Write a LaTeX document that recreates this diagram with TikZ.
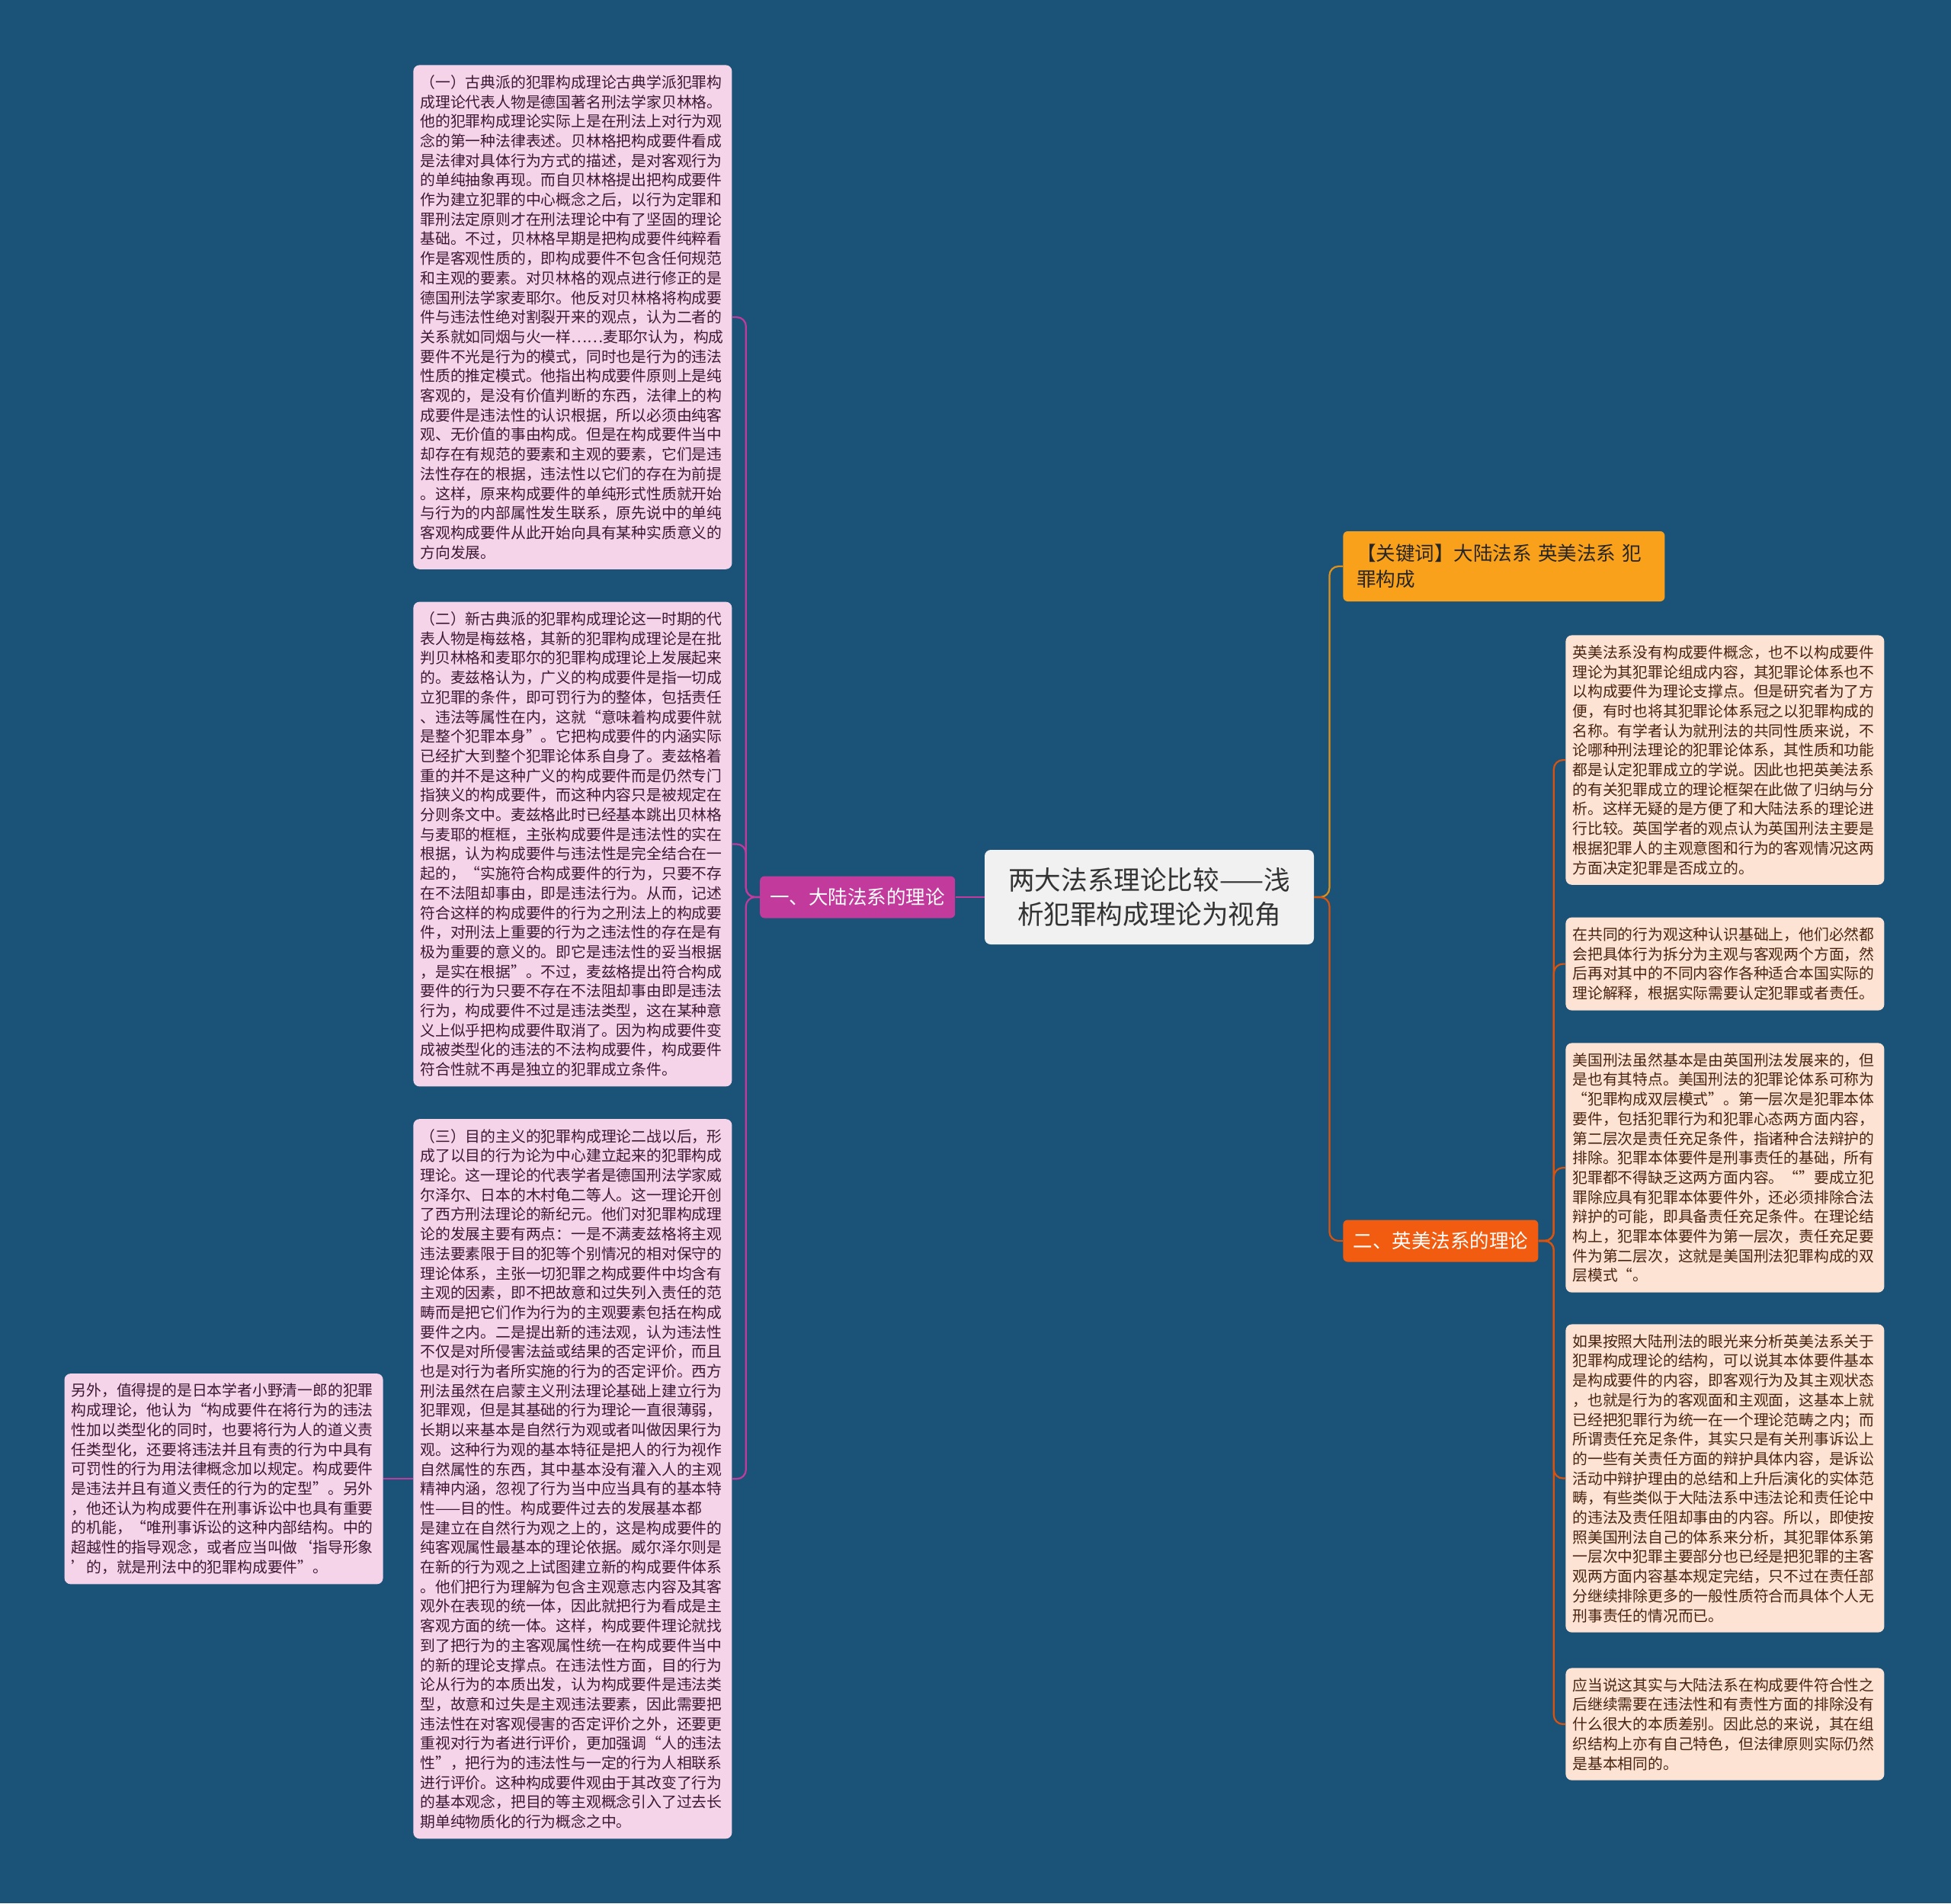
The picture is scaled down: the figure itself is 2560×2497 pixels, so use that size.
\documentclass[tikz,border=0pt]{standalone}
\usepackage{fontspec}
\setmainfont{Noto Sans CJK SC}
\usepackage{xcolor}
\usepackage{tikz}
\usetikzlibrary{positioning}

\definecolor{bgblue}{HTML}{1B5378}
\definecolor{rootfill}{HTML}{F1F1F1}
\definecolor{magenta1}{HTML}{C23A9C}
\definecolor{pinkfill}{HTML}{F5D4EA}
\definecolor{pinktext}{HTML}{3E1733}
\definecolor{keyfill}{HTML}{F9A11B}
\definecolor{orange1}{HTML}{F25C10}
\definecolor{peachfill}{HTML}{FCE3D4}
\definecolor{peachtext}{HTML}{4A2410}

\begin{document}
\begin{tikzpicture}[
    x=0.5pt, y=0.5pt,
    rootbox/.style={rectangle, fill=rootfill, rounded corners=4pt,
                    minimum width=216pt, minimum height=62pt, align=center,
                    text=black!80, font=\fontsize{17.3pt}{22.5pt}\selectfont},
    lbranch/.style={rectangle, fill=magenta1, rounded corners=3pt, text=white,
                    minimum width=128pt, minimum height=27.5pt,
                    font=\fontsize{12.75pt}{16pt}\selectfont},
    rbranch/.style={lbranch, fill=orange1},
    keybox/.style={rectangle, fill=keyfill, rounded corners=3pt, align=left,
                   text width=193pt, inner xsep=9pt, minimum height=46pt,
                   text=black!85, font=\fontsize{12.75pt}{17pt}\selectfont},
    pinkleaf/.style={rectangle, fill=pinkfill, rounded corners=4pt, align=left,
                     text width=200pt, inner xsep=4.5pt, inner ysep=6.5pt,
                     text=pinktext, font=\fontsize{9.9pt}{12.85pt}\selectfont},
    peachleaf/.style={pinkleaf, fill=peachfill, text=peachtext},
    magline/.style={draw=magenta1, line width=1.1pt, rounded corners=6pt},
    oraline/.style={draw=orange1!90!black, line width=1.1pt, rounded corners=6pt},
    yelline/.style={draw=keyfill!90!black, line width=1.1pt, rounded corners=6pt},
  ]
    \useasboundingbox[fill=bgblue] (0,0) rectangle (2560,-2497);

    % root and first level
    \node[rootbox] (root) at (1508,-1177)
        {两大法系理论比较——浅\\析犯罪构成理论为视角};
    \node[lbranch, left=19pt of root] (dalu) {一、大陆法系的理论};
    \node[keybox, anchor=west] (keyw) at (1762,-743)
        {【关键词】大陆法系 英美法系 犯\\罪构成};
    \node[rbranch, anchor=west] (yingmei) at (1762,-1628) {二、英美法系的理论};

    % left leaves
    \node[pinkleaf, anchor=north west] (gudian) at (542,-85)
        {（一）古典派的犯罪构成理论古典学派犯罪构\\
         成理论代表人物是德国著名刑法学家贝林格。\\
         他的犯罪构成理论实际上是在刑法上对行为观\\
         念的第一种法律表述。贝林格把构成要件看成\\
         是法律对具体行为方式的描述，是对客观行为\\
         的单纯抽象再现。而自贝林格提出把构成要件\\
         作为建立犯罪的中心概念之后，以行为定罪和\\
         罪刑法定原则才在刑法理论中有了坚固的理论\\
         基础。不过，贝林格早期是把构成要件纯粹看\\
         作是客观性质的，即构成要件不包含任何规范\\
         和主观的要素。对贝林格的观点进行修正的是\\
         德国刑法学家麦耶尔。他反对贝林格将构成要\\
         件与违法性绝对割裂开来的观点，认为二者的\\
         关系就如同烟与火一样……麦耶尔认为，构成\\
         要件不光是行为的模式，同时也是行为的违法\\
         性质的推定模式。他指出构成要件原则上是纯\\
         客观的，是没有价值判断的东西，法律上的构\\
         成要件是违法性的认识根据，所以必须由纯客\\
         观、无价值的事由构成。但是在构成要件当中\\
         却存在有规范的要素和主观的要素，它们是违\\
         法性存在的根据，违法性以它们的存在为前提\\
         。这样，原来构成要件的单纯形式性质就开始\\
         与行为的内部属性发生联系，原先说中的单纯\\
         客观构成要件从此开始向具有某种实质意义的\\
         方向发展。};
    \node[pinkleaf, below=21pt of gudian] (xingudian)
        {（二）新古典派的犯罪构成理论这一时期的代\\
         表人物是梅兹格，其新的犯罪构成理论是在批\\
         判贝林格和麦耶尔的犯罪构成理论上发展起来\\
         的。麦兹格认为，广义的构成要件是指一切成\\
         立犯罪的条件，即可罚行为的整体，包括责任\\
         、违法等属性在内，这就“意味着构成要件就\\
         是整个犯罪本身”。它把构成要件的内涵实际\\
         已经扩大到整个犯罪论体系自身了。麦兹格着\\
         重的并不是这种广义的构成要件而是仍然专门\\
         指狭义的构成要件，而这种内容只是被规定在\\
         分则条文中。麦兹格此时已经基本跳出贝林格\\
         与麦耶的框框，主张构成要件是违法性的实在\\
         根据，认为构成要件与违法性是完全结合在一\\
         起的，“实施符合构成要件的行为，只要不存\\
         在不法阻却事由，即是违法行为。从而，记述\\
         符合这样的构成要件的行为之刑法上的构成要\\
         件，对刑法上重要的行为之违法性的存在是有\\
         极为重要的意义的。即它是违法性的妥当根据\\
         ，是实在根据”。不过，麦兹格提出符合构成\\
         要件的行为只要不存在不法阻却事由即是违法\\
         行为，构成要件不过是违法类型，这在某种意\\
         义上似乎把构成要件取消了。因为构成要件变\\
         成被类型化的违法的不法构成要件，构成要件\\
         符合性就不再是独立的犯罪成立条件。};
    \node[pinkleaf, below=21pt of xingudian] (mudi)
        {（三）目的主义的犯罪构成理论二战以后，形\\
         成了以目的行为论为中心建立起来的犯罪构成\\
         理论。这一理论的代表学者是德国刑法学家威\\
         尔泽尔、日本的木村龟二等人。这一理论开创\\
         了西方刑法理论的新纪元。他们对犯罪构成理\\
         论的发展主要有两点：一是不满麦兹格将主观\\
         违法要素限于目的犯等个别情况的相对保守的\\
         理论体系，主张一切犯罪之构成要件中均含有\\
         主观的因素，即不把故意和过失列入责任的范\\
         畴而是把它们作为行为的主观要素包括在构成\\
         要件之内。二是提出新的违法观，认为违法性\\
         不仅是对所侵害法益或结果的否定评价，而且\\
         也是对行为者所实施的行为的否定评价。西方\\
         刑法虽然在启蒙主义刑法理论基础上建立行为\\
         犯罪观，但是其基础的行为理论一直很薄弱，\\
         长期以来基本是自然行为观或者叫做因果行为\\
         观。这种行为观的基本特征是把人的行为视作\\
         自然属性的东西，其中基本没有灌入人的主观\\
         精神内涵，忽视了行为当中应当具有的基本特\\
         性——目的性。构成要件过去的发展基本都\\
         是建立在自然行为观之上的，这是构成要件的\\
         纯客观属性最基本的理论依据。威尔泽尔则是\\
         在新的行为观之上试图建立新的构成要件体系\\
         。他们把行为理解为包含主观意志内容及其客\\
         观外在表现的统一体，因此就把行为看成是主\\
         客观方面的统一体。这样，构成要件理论就找\\
         到了把行为的主客观属性统一在构成要件当中\\
         的新的理论支撑点。在违法性方面，目的行为\\
         论从行为的本质出发，认为构成要件是违法类\\
         型，故意和过失是主观违法要素，因此需要把\\
         违法性在对客观侵害的否定评价之外，还要更\\
         重视对行为者进行评价，更加强调“人的违法\\
         性”，把行为的违法性与一定的行为人相联系\\
         进行评价。这种构成要件观由于其改变了行为\\
         的基本观念，把目的等主观概念引入了过去长\\
         期单纯物质化的行为概念之中。};
    \node[pinkleaf, left=19.5pt of mudi] (xiaoye)
        {另外，值得提的是日本学者小野清一郎的犯罪\\
         构成理论，他认为“构成要件在将行为的违法\\
         性加以类型化的同时，也要将行为人的道义责\\
         任类型化，还要将违法并且有责的行为中具有\\
         可罚性的行为用法律概念加以规定。构成要件\\
         是违法并且有道义责任的行为的定型”。另外\\
         ，他还认为构成要件在刑事诉讼中也具有重要\\
         的机能，“唯刑事诉讼的这种内部结构。中的\\
         超越性的指导观念，或者应当叫做‘指导形象\\
         ’的，就是刑法中的犯罪构成要件”。};

    % right leaves
    \node[peachleaf, anchor=north west] (meiyou) at (2054,-833)
        {英美法系没有构成要件概念，也不以构成要件\\
         理论为其犯罪论组成内容，其犯罪论体系也不\\
         以构成要件为理论支撑点。但是研究者为了方\\
         便，有时也将其犯罪论体系冠之以犯罪构成的\\
         名称。有学者认为就刑法的共同性质来说，不\\
         论哪种刑法理论的犯罪论体系，其性质和功能\\
         都是认定犯罪成立的学说。因此也把英美法系\\
         的有关犯罪成立的理论框架在此做了归纳与分\\
         析。这样无疑的是方便了和大陆法系的理论进\\
         行比较。英国学者的观点认为英国刑法主要是\\
         根据犯罪人的主观意图和行为的客观情况这两\\
         方面决定犯罪是否成立的。};
    \node[peachleaf, below=21pt of meiyou] (gongtong)
        {在共同的行为观这种认识基础上，他们必然都\\
         会把具体行为拆分为主观与客观两个方面，然\\
         后再对其中的不同内容作各种适合本国实际的\\
         理论解释，根据实际需要认定犯罪或者责任。};
    \node[peachleaf, below=21pt of gongtong] (meiguo)
        {美国刑法虽然基本是由英国刑法发展来的，但\\
         是也有其特点。美国刑法的犯罪论体系可称为\\
         “犯罪构成双层模式”。第一层次是犯罪本体\\
         要件，包括犯罪行为和犯罪心态两方面内容，\\
         第二层次是责任充足条件，指诸种合法辩护的\\
         排除。犯罪本体要件是刑事责任的基础，所有\\
         犯罪都不得缺乏这两方面内容。“”要成立犯\\
         罪除应具有犯罪本体要件外，还必须排除合法\\
         辩护的可能，即具备责任充足条件。在理论结\\
         构上，犯罪本体要件为第一层次，责任充足要\\
         件为第二层次，这就是美国刑法犯罪构成的双\\
         层模式“。};
    \node[peachleaf, below=20.5pt of meiguo] (anzhao)
        {如果按照大陆刑法的眼光来分析英美法系关于\\
         犯罪构成理论的结构，可以说其本体要件基本\\
         是构成要件的内容，即客观行为及其主观状态\\
         ，也就是行为的客观面和主观面，这基本上就\\
         已经把犯罪行为统一在一个理论范畴之内；而\\
         所谓责任充足条件，其实只是有关刑事诉讼上\\
         的一些有关责任方面的辩护具体内容，是诉讼\\
         活动中辩护理由的总结和上升后演化的实体范\\
         畴，有些类似于大陆法系中违法论和责任论中\\
         的违法及责任阻却事由的内容。所以，即使按\\
         照美国刑法自己的体系来分析，其犯罪体系第\\
         一层次中犯罪主要部分也已经是把犯罪的主客\\
         观两方面内容基本规定完结，只不过在责任部\\
         分继续排除更多的一般性质符合而具体个人无\\
         刑事责任的情况而已。};
    \node[peachleaf, below=23pt of anzhao] (yingdang)
        {应当说这其实与大陆法系在构成要件符合性之\\
         后继续需要在违法性和有责性方面的排除没有\\
         什么很大的本质差别。因此总的来说，其在组\\
         织结构上亦有自己特色，但法律原则实际仍然\\
         是基本相同的。};

    % root -> branches
    \draw[magline] (dalu) -- (root);
    \draw[yelline] (root.east) -- ++(20,0) |- (keyw.west);
    \draw[oraline] (root.east) -- ++(20,0) |- (yingmei.west);

    % left branch -> leaves
    \foreach \leaf in {gudian, xingudian, mudi}
      \draw[magline] (dalu.west) -- ++(-18,0) |- (\leaf.east);
    \draw[magline] (mudi.west) -- (xiaoye.east);

    % right branch -> leaves
    \foreach \leaf in {meiyou, gongtong, meiguo, anzhao, yingdang}
      \draw[oraline] (yingmei.east) -- ++(20,0) |- (\leaf.west);
\end{tikzpicture}
\end{document}
